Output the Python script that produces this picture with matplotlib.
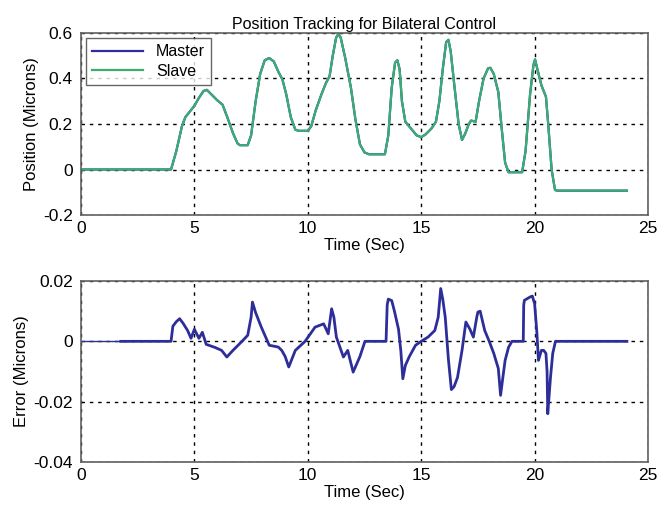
import matplotlib
matplotlib.use("Agg")
import matplotlib.pyplot as plt

# Position tracking (Master & Slave overlap)
pos_t = [0, 3.97, 4.2, 4.45, 4.6, 4.8, 5.0, 5.2, 5.4, 5.55, 5.75, 6.0, 6.24, 6.45, 6.7, 6.9, 7.0,
         7.35, 7.5, 7.7, 7.9, 8.1, 8.3, 8.5, 8.7, 8.88, 9.05, 9.25, 9.45, 9.6, 10.0, 10.15, 10.35,
         10.6, 10.8, 10.96, 11.1, 11.25, 11.35, 11.45, 11.65, 11.9, 12.1, 12.3, 12.5, 12.7, 13.4,
         13.55, 13.7, 13.85, 13.95, 14.05, 14.15, 14.3, 14.55, 14.8, 15.0, 15.2, 15.45, 15.65,
         15.8, 15.95, 16.1, 16.2, 16.3, 16.45, 16.65, 16.8, 16.95, 17.1, 17.2, 17.4, 17.55, 17.75,
         17.95, 18.05, 18.2, 18.4, 18.55, 18.7, 18.85, 19.45, 19.6, 19.8, 19.95, 20.02, 20.15,
         20.3, 20.5, 20.6, 20.75, 20.9, 21.0, 24.07]
pos_v = [0, 0, 0.08, 0.19, 0.23, 0.255, 0.28, 0.315, 0.345, 0.35, 0.33, 0.305, 0.285, 0.23, 0.16,
         0.115, 0.107, 0.107, 0.15, 0.3, 0.42, 0.48, 0.49, 0.475, 0.43, 0.396, 0.33, 0.23, 0.175,
         0.17, 0.17, 0.19, 0.26, 0.33, 0.38, 0.41, 0.5, 0.58, 0.596, 0.58, 0.49, 0.36, 0.22, 0.11,
         0.075, 0.067, 0.067, 0.15, 0.36, 0.47, 0.48, 0.44, 0.3, 0.21, 0.18, 0.15, 0.142, 0.155,
         0.18, 0.21, 0.3, 0.44, 0.56, 0.57, 0.52, 0.38, 0.2, 0.13, 0.16, 0.2, 0.215, 0.21, 0.3,
         0.4, 0.445, 0.447, 0.42, 0.34, 0.18, 0.03, -0.012, -0.012, 0.08, 0.33, 0.46, 0.484, 0.43,
         0.37, 0.32, 0.2, 0.0, -0.09, -0.093, -0.093]

# Tracking error
err_t = [0, 1.75, 3.97, 4.05, 4.2, 4.35, 4.5, 4.7, 4.85, 5.0, 5.2, 5.35, 5.52, 5.9, 6.2, 6.43,
         6.7, 7.1, 7.35, 7.5, 7.56, 7.7, 7.95, 8.3, 8.7, 8.85, 9.0, 9.16, 9.45, 9.88, 10.32, 10.7,
         10.9, 11.0, 11.05, 11.15, 11.26, 11.57, 11.76, 12.0, 12.3, 12.52, 13.45, 13.5, 13.55,
         13.7, 13.82, 14.0, 14.1, 14.19, 14.3, 14.48, 14.75, 15.06, 15.3, 15.6, 15.75, 15.86,
         15.95, 16.06, 16.2, 16.33, 16.45, 16.6, 16.8, 16.97, 17.15, 17.3, 17.45, 17.5, 17.6,
         17.8, 18.0, 18.2, 18.4, 18.5, 18.6, 18.7, 18.85, 19.0, 19.5, 19.52, 19.55, 19.8, 19.9,
         20.0, 20.1, 20.17, 20.3, 20.4, 20.5, 20.55, 20.58, 20.62, 20.7, 20.8, 20.92, 24.07]
err_v = [0, 0, 0, 0.005, 0.0065, 0.0075, 0.006, 0.0036, 0.001, 0.004, 0.001, 0.003, -0.001,
         -0.002, -0.003, -0.0052, -0.003, 0.0, 0.002, 0.008, 0.013, 0.0095, 0.0047, -0.0013,
         -0.0019, -0.003, -0.005, -0.0085, -0.003, 0.0, 0.0047, 0.0058, 0.0025, 0.008, 0.0108,
         0.008, 0.0014, -0.0052, -0.003, -0.0102, -0.005, 0.0, 0.0, 0.012, 0.014, 0.0135, 0.01,
         0.004, -0.003, -0.0124, -0.008, -0.005, -0.0013, 0.0003, 0.0014, 0.0036, 0.008, 0.0175,
         0.014, 0.008, -0.006, -0.016, -0.015, -0.012, -0.003, 0.0064, 0.004, 0.0014, 0.008,
         0.0097, 0.01, 0.0036, 0.0, -0.004, -0.009, -0.0179, -0.012, -0.0063, -0.002, 0.0, 0.0,
         0.012, 0.0136, 0.0147, 0.015, 0.0125, 0.003, -0.0063, -0.003, -0.003, -0.004, -0.01,
         -0.024, -0.02, -0.012, -0.004, 0.0, 0.0]

xticks = [0, 5, 10, 15, 20, 25]
pos_yticks = [-0.2, 0, 0.2, 0.4, 0.6]
pos_ylabels = ["-0.2", "0", "0.2", "0.4", "0.6"]
err_yticks = [-0.04, -0.02, 0, 0.02]
err_ylabels = ["-0.04", "-0.02", "0", "0.02"]

plt.rcParams['font.family'] = ['Liberation Sans', 'DejaVu Sans']

fig = plt.figure(figsize=(6.61, 5.09), dpi=100)
W, H = 661, 509
def rect(l, t, r, b):
    return [l / W, 1 - b / H, (r - l) / W, (b - t) / H]

ax1 = fig.add_axes(rect(81, 33, 648, 215))
ax2 = fig.add_axes(rect(81, 281, 648, 462))

blue = '#2e2e9a'
green = '#3aae72'
frame = '#606060'

ax1.plot(pos_t, pos_v, color=blue, lw=1.6, label='Master')
ax1.plot(pos_t, pos_v, color=green, lw=1.6, label='Slave')
ax1.set_xlim(0, 25)
ax1.set_ylim(-0.2, 0.6)
ax1.set_yticks(pos_yticks)
ax1.set_yticklabels(pos_ylabels)
ax1.set_title('Position Tracking for Bilateral Control', fontsize=11.5, pad=3)
ax1.set_ylabel('Position (Microns)', fontsize=12, labelpad=3)
ax1.set_xlabel('Time (Sec)', fontsize=12, labelpad=2)
leg = ax1.legend(loc='upper left', fontsize=11.5, frameon=True, fancybox=False,
                 borderaxespad=0.3, handlelength=3.2, edgecolor='#404040',
                 borderpad=0.4, labelspacing=0.3)
leg.get_frame().set_linewidth(1.0)

ax2.plot(err_t[:2], err_v[:2], color=blue, lw=1.0)
ax2.plot(err_t[1:], err_v[1:], color=blue, lw=2.0)
ax2.set_xlim(0, 25)
ax2.set_ylim(-0.04, 0.02)
ax2.set_yticks(err_yticks)
ax2.set_yticklabels(err_ylabels)
ax2.set_ylabel('Error (Microns)', fontsize=12, labelpad=3)
ax2.set_xlabel('Time (Sec)', fontsize=12, labelpad=2)

for ax in (ax1, ax2):
    ax.set_xticks(xticks)
    ax.grid(True, color='black', linestyle=(0, (2.5, 3.5)), linewidth=1.0)
    ax.set_axisbelow(True)
    ax.tick_params(axis='both', labelsize=12.5, direction='in', length=0, colors='black')
    ax.tick_params(axis='x', pad=4)
    ax.tick_params(axis='y', pad=6)
    for s in ax.spines.values():
        s.set_color(frame)
        s.set_linewidth(1.2)

fig.savefig('out.png', dpi=100)
